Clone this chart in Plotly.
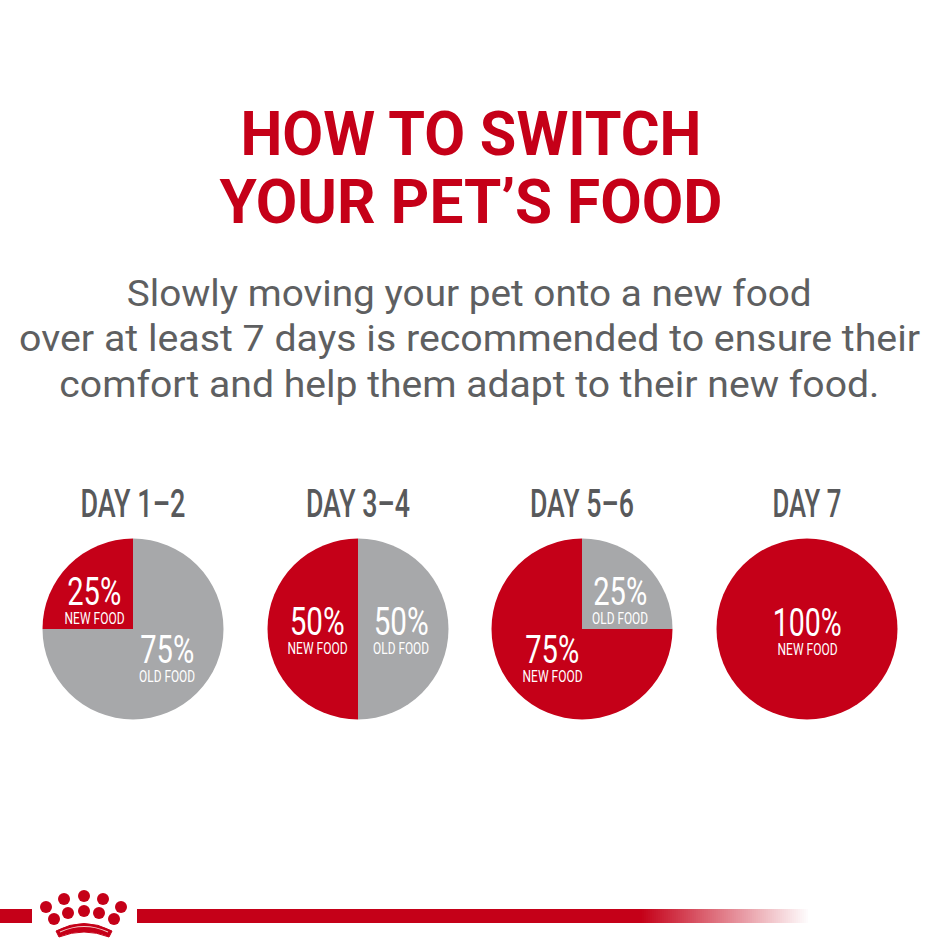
import json
import plotly.graph_objects as go

RED = "#c50018"
GREY = "#a7a8aa"
DARK = "#58595b"
FONT = "Roboto"

# cx, header, new %, old %, rotation
PIES = [
    dict(cx=133, day="DAY 1–2", new=25, old=75, rotation=270),
    dict(cx=358, day="DAY 3–4", new=50, old=50, rotation=180),
    dict(cx=582, day="DAY 5–6", new=75, old=25, rotation=90),
    dict(cx=807, day="DAY 7", new=100, old=0, rotation=0),
]
PIE_CY = 629
PIE_R = 90.5
W = 940

# x, y, percent text, caption
PIE_LABELS = [
    (94, 592, "25%", "NEW FOOD"),
    (167, 650, "75%", "OLD FOOD"),
    (317, 622, "50%", "NEW FOOD"),
    (401, 622, "50%", "OLD FOOD"),
    (620, 592, "25%", "OLD FOOD"),
    (552, 650, "75%", "NEW FOOD"),
    (807, 623, "100%", "NEW FOOD"),
]

BODY = [
    (469, 294, "Slowly moving your pet onto a new food"),
    (469, 339, "over at least 7 days is recommended to ensure their"),
    (469, 385, "comfort and help them adapt to their new food."),
]

# the original uses a condensed face, so squeeze the text to these widths (px)
TEXT_WIDTHS = {
    "HOW TO SWITCH": 461,
    "YOUR PET’S FOOD": 503,
    "DAY 1–2": 105,
    "DAY 3–4": 104,
    "DAY 5–6": 104,
    "DAY 7": 69,
    "25%": 54,
    "75%": 54,
    "50%": 55,
    "100%": 69,
    "NEW FOOD": 60,
    "OLD FOOD": 56,
    BODY[0][2]: 685,
    BODY[1][2]: 901,
    BODY[2][2]: 820,
}

CROWN_X = [46, 64, 84, 103, 121, 54, 68, 84, 99, 114]
CROWN_Y = [907, 899, 896, 899, 907, 919, 913, 911, 913, 919]


def text(x, y, s, size, color, weight=400):
    return dict(
        x=x, y=y, xref="x", yref="y",
        text=s,
        showarrow=False,
        xanchor="center", yanchor="middle",
        font=dict(family=FONT, size=size, color=color, weight=weight),
    )


def fade_color(t):
    r = int(197 + (255 - 197) * t)
    g = int(0 + 255 * t)
    b = int(24 + (255 - 24) * t)
    return f"rgb({r},{g},{b})"


fig = go.Figure()
annotations = []
shapes = []

for p in PIES:
    fig.add_trace(go.Pie(
        labels=["New food", "Old food"],
        values=[p["new"], p["old"]],
        marker=dict(colors=[RED, GREY], line=dict(width=0)),
        sort=False,
        direction="clockwise",
        rotation=p["rotation"],
        textinfo="none",
        showlegend=False,
        domain=dict(
            x=[(p["cx"] - PIE_R) / W, (p["cx"] + PIE_R) / W],
            y=[1 - (PIE_CY + PIE_R) / W, 1 - (PIE_CY - PIE_R) / W],
        ),
    ))
    annotations.append(text(p["cx"], 504, p["day"], 38, DARK, weight=500))

for x, y, pct, caption in PIE_LABELS:
    annotations.append(text(x, y, pct, 39, "white"))
    annotations.append(text(x, y + 26, caption, 17, "white"))

annotations.append(text(471, 133, "HOW TO SWITCH", 62, RED, weight=700))
annotations.append(text(471, 201, "YOUR PET’S FOOD", 62, RED, weight=700))
for x, y, s in BODY:
    annotations.append(text(x, y, s, 36, "#5e5f61"))

# crown
fig.add_trace(go.Scatter(
    x=CROWN_X, y=CROWN_Y, mode="markers",
    marker=dict(size=12, color=RED, line=dict(width=0)),
    showlegend=False, hoverinfo="skip",
))
shapes.append(dict(type="path", path="M 56 931 Q 84 916 112 931 L 109 937 Q 84 927 59 937 Z",
                   fillcolor=RED, line=dict(width=1, color=RED)))
shapes.append(dict(type="path", path="M 60 932 Q 84 921 108 932",
                   line=dict(width=1.2, color="#f4c7c7")))

# footer rule
shapes.append(dict(type="rect", x0=0, x1=32, y0=909, y1=923, fillcolor=RED, line=dict(width=0)))
shapes.append(dict(type="rect", x0=137, x1=640, y0=909, y1=923, fillcolor=RED, line=dict(width=0)))
for i in range(0, 84):
    x0 = 640 + i * 2
    shapes.append(dict(type="rect", x0=x0, x1=x0 + 2, y0=909, y1=923,
                       fillcolor=fade_color(i / 84), line=dict(width=0)))

fig.update_layout(
    width=W, height=W,
    margin=dict(l=0, r=0, t=0, b=0),
    paper_bgcolor="white",
    plot_bgcolor="white",
    xaxis=dict(range=[0, W], visible=False, fixedrange=True),
    yaxis=dict(range=[W, 0], visible=False, fixedrange=True),
    annotations=annotations,
    shapes=shapes,
)

# drop the page margin and fit the labels to their widths
post_script = """
document.body.style.margin = '0';
var widths = %s;
document.querySelectorAll('text.annotation-text').forEach(function (t) {
    var w = widths[t.textContent];
    if (w) {
        t.setAttribute('textLength', w);
        t.setAttribute('lengthAdjust', 'spacingAndGlyphs');
    }
});
""" % json.dumps(TEXT_WIDTHS)

fig.write_html("out.html", config=dict(displayModeBar=False), post_script=post_script)
